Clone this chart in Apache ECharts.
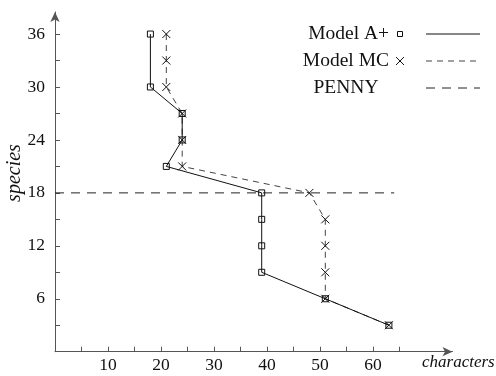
<!DOCTYPE html>
<html><head><meta charset="utf-8">
<script src="https://cdn.jsdelivr.net/npm/echarts@6/dist/echarts.min.js"></script>
<style>html,body{margin:0;padding:0;background:#fff}#c{width:496px;height:376px}</style>
</head><body><div id="c"></div>
<script>
// Data
const speciesA = [36, 30, 27, 24, 21, 18, 15, 12, 9, 6, 3];
const charsA   = [18, 18, 24, 24, 21, 39, 39, 39, 39, 51, 63];
const speciesMC = [36, 33, 30, 27, 24, 21, 18, 15, 12, 9, 6, 3];
const charsMC   = [21, 21, 21, 24, 24, 24, 48, 51, 51, 51, 51, 63];
const pennyY = 18;
const pennyX = [0, 64];
const xTicks = [5, 10, 15, 20, 25, 30, 35, 40, 45, 50, 55, 60, 65];
const xLabels = [10, 20, 30, 40, 50, 60];
const yTicks = [3, 6, 9, 12, 15, 18, 21, 24, 27, 30, 33, 36];
const yLabels = [6, 12, 18, 24, 30, 36];
const legendNames = ['Model A+', 'Model MC', 'PENNY'];

const FONT = 'Liberation Serif';
const axisColor = '#555';
const crossPath = 'path://M0,0L10,10M10,0L0,10';

const chart = echarts.init(document.getElementById('c'));
chart.setOption({
  animation: false,
  backgroundColor: '#fff',
  grid: { left: 55, right: 43.5, top: 12, bottom: 24.3 },
  xAxis: {
    type: 'value', min: 0, max: 75,
    axisLine: { show: true, lineStyle: { color: axisColor, width: 1 }, symbol: ['none', 'arrow'], symbolSize: [7, 10] },
    axisTick: { show: true, inside: true, length: 5, lineStyle: { color: axisColor }, customValues: xTicks },
    axisLabel: { customValues: xLabels, color: '#111', fontFamily: FONT, fontSize: 17.5, margin: 5 },
    splitLine: { show: false }
  },
  yAxis: {
    type: 'value', min: 0, max: 38.5,
    axisLine: { show: true, lineStyle: { color: axisColor, width: 1 }, symbol: ['none', 'arrow'], symbolSize: [7, 10] },
    axisTick: { show: true, inside: true, length: 5, lineStyle: { color: axisColor }, customValues: yTicks },
    axisLabel: { customValues: yLabels, color: '#111', fontFamily: FONT, fontSize: 17.5, margin: 10 },
    splitLine: { show: false }
  },
  series: [
    {
      name: legendNames[2], type: 'line',
      data: pennyX.map(x => [x, pennyY]),
      symbol: 'none',
      lineStyle: { color: '#222', width: 1, type: [9, 7] },
      z: 1
    },
    {
      name: legendNames[1], type: 'line',
      data: charsMC.map((x, i) => [x, speciesMC[i]]),
      symbol: crossPath, symbolSize: 8,
      itemStyle: { color: 'rgba(0,0,0,0)', borderColor: '#111', borderWidth: 1 },
      lineStyle: { color: '#444', width: 1, type: [6, 5] },
      z: 2
    },
    {
      name: legendNames[0], type: 'line',
      data: charsA.map((x, i) => [x, speciesA[i]]),
      symbol: 'rect', symbolSize: 6,
      itemStyle: { color: 'rgba(255,255,255,0)', borderColor: '#111', borderWidth: 1 },
      lineStyle: { color: '#111', width: 1 },
      z: 3
    }
  ],
  graphic: [
    { type: 'text', left: 422, top: 354, style: { text: 'characters', font: 'italic 17px "Liberation Serif"', fill: '#111' } },
    { type: 'text', x: 15, y: 173, rotation: Math.PI / 2, style: { text: 'species', font: 'italic 20px "Liberation Serif"', fill: '#111', textAlign: 'center', textVerticalAlign: 'middle' } },
    // legend
    { type: 'text', x: 389, y: 34, style: { text: legendNames[0], font: '19.5px "Liberation Serif"', fill: '#111', textAlign: 'right', textVerticalAlign: 'middle' } },
    { type: 'rect', shape: { x: 397.5, y: 31.5, width: 5, height: 5 }, style: { fill: '#fff', stroke: '#111', lineWidth: 1 } },
    { type: 'line', shape: { x1: 426, y1: 34, x2: 480, y2: 34 }, style: { stroke: '#111', lineWidth: 1 } },
    { type: 'text', x: 389, y: 61, style: { text: legendNames[1], font: '19.5px "Liberation Serif"', fill: '#111', textAlign: 'right', textVerticalAlign: 'middle' } },
    { type: 'polyline', shape: { points: [[396, 57], [404, 65]] }, style: { stroke: '#111', lineWidth: 1 } },
    { type: 'polyline', shape: { points: [[404, 57], [396, 65]] }, style: { stroke: '#111', lineWidth: 1 } },
    { type: 'line', shape: { x1: 426, y1: 61, x2: 480, y2: 61 }, style: { stroke: '#444', lineWidth: 1, lineDash: [6, 5] } },
    { type: 'text', x: 346, y: 88, style: { text: legendNames[2], font: '19.5px "Liberation Serif"', fill: '#111', textAlign: 'center', textVerticalAlign: 'middle' } },
    { type: 'line', shape: { x1: 426, y1: 88, x2: 480, y2: 88 }, style: { stroke: '#222', lineWidth: 1, lineDash: [9, 7] } }
  ]
});
</script></body></html>
